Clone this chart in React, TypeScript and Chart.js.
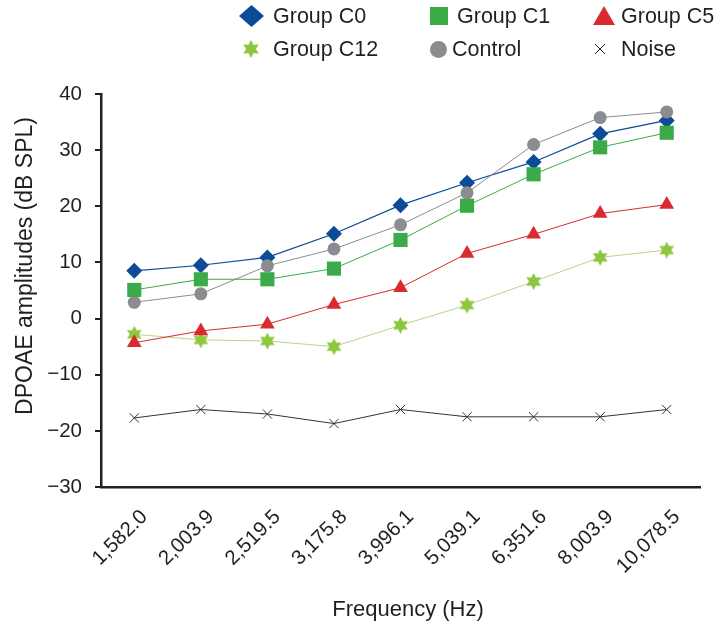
import React, { useEffect, useRef } from "react";
import { Chart, registerables } from "chart.js";

Chart.register(...registerables);

const frequencies = ["1,582.0", "2,003.9", "2,519.5", "3,175.8", "3,996.1", "5,039.1", "6,351.6", "8,003.9", "10,078.5"];
const seriesNames = ["Group C0", "Group C1", "Group C5", "Group C12", "Control", "Noise"];
const groupC0 = [8.5, 9.5, 10.9, 15.1, 20.2, 24.2, 27.9, 32.9, 35.3];
const groupC1 = [5.1, 7.0, 7.0, 8.9, 14.0, 20.1, 25.7, 30.5, 33.1];
const groupC5 = [-4.3, -2.2, -1.0, 2.5, 5.5, 11.6, 15.0, 18.7, 20.3];
const groupC12 = [-2.8, -3.8, -4.0, -5.0, -1.2, 2.4, 6.6, 10.9, 12.2];
const control = [2.9, 4.4, 9.4, 12.4, 16.7, 22.4, 31.0, 35.8, 36.8];
const noise = [-17.7, -16.2, -17.0, -18.7, -16.2, -17.5, -17.5, -17.5, -16.2];
const yTicks = [-30, -20, -10, 0, 10, 20, 30, 40];
const xTitle = "Frequency (Hz)";
const yTitle = "DPOAE amplitudes (dB SPL)";

const NAVY = "#0c4b97";
const GREEN = "#3bab4a";
const RED = "#d92a30";
const LIME = "#8dc63f";
const LIME_LINE = "#b5d78c";
const GRAY = "#8b8c8f";
const DARK = "#231f20";
const FONT = '"Liberation Sans", Arial, sans-serif';

function starPoints(cx: number, cy: number, ro: number, ri: number, n: number) {
  const pts: string[] = [];
  for (let i = 0; i < n * 2; i++) {
    const r = i % 2 === 0 ? ro : ri;
    const a = (Math.PI * i) / n - Math.PI / 2;
    pts.push(`${(cx + r * Math.cos(a)).toFixed(2)},${(cy + r * Math.sin(a)).toFixed(2)}`);
  }
  return pts.join(" ");
}

function makeStarCanvas(size: number, color: string) {
  const c = document.createElement("canvas");
  c.width = size;
  c.height = size;
  const ctx = c.getContext("2d")!;
  const cx = size / 2, cy = size / 2;
  const ro = size / 2, ri = size * 0.27;
  ctx.beginPath();
  for (let i = 0; i < 12; i++) {
    const r = i % 2 === 0 ? ro : ri;
    const a = (Math.PI * i) / 6 - Math.PI / 2;
    const x = cx + r * Math.cos(a), y = cy + r * Math.sin(a);
    if (i === 0) ctx.moveTo(x, y); else ctx.lineTo(x, y);
  }
  ctx.closePath();
  ctx.fillStyle = color;
  ctx.fill();
  return c;
}

const titlesPlugin = {
  id: "axisTitles",
  afterDraw(chart: any) {
    const ctx = chart.ctx;
    ctx.save();
    ctx.fillStyle = DARK;
    ctx.textAlign = "center";
    ctx.textBaseline = "middle";
    ctx.font = `23px ${FONT}`;
    ctx.translate(26, 266);
    ctx.rotate(-Math.PI / 2);
    ctx.fillText(yTitle, 0, 0);
    ctx.restore();
    ctx.save();
    ctx.fillStyle = DARK;
    ctx.textAlign = "center";
    ctx.textBaseline = "middle";
    ctx.font = `22px ${FONT}`;
    ctx.fillText(xTitle, 408, 610);
    ctx.restore();
  },
};

function LegendMarker({ kind }: { kind: string }) {
  if (kind === "diamond")
    return (<svg width={25} height={22}><polygon points="12.5,0 25,11 12.5,22 0,11" fill={NAVY} /></svg>);
  if (kind === "square")
    return (<svg width={18} height={18}><rect x={0} y={0} width={18} height={18} fill={GREEN} /></svg>);
  if (kind === "triangle")
    return (<svg width={22} height={19}><polygon points="11,0 22,19 0,19" fill={RED} /></svg>);
  if (kind === "star")
    return (<svg width={18} height={18}><polygon points={starPoints(9, 9, 9, 4.8, 6)} fill={LIME} /></svg>);
  if (kind === "circle")
    return (<svg width={17} height={17}><circle cx={8.5} cy={8.5} r={8.5} fill={GRAY} /></svg>);
  return (
    <svg width={10} height={10}>
      <line x1={0} y1={0} x2={10} y2={10} stroke={DARK} strokeWidth={1} />
      <line x1={10} y1={0} x2={0} y2={10} stroke={DARK} strokeWidth={1} />
    </svg>
  );
}

const legendLayout = [
  { kind: "diamond", mx: 251, my: 16, w: 25, h: 22, tx: 273, ty: 16 },
  { kind: "square", mx: 439, my: 16, w: 18, h: 18, tx: 457, ty: 16 },
  { kind: "triangle", mx: 604, my: 15, w: 22, h: 19, tx: 621, ty: 16 },
  { kind: "star", mx: 251, my: 49, w: 18, h: 18, tx: 273, ty: 49 },
  { kind: "circle", mx: 438, my: 49, w: 17, h: 17, tx: 452, ty: 49 },
  { kind: "cross", mx: 600, my: 49, w: 10, h: 10, tx: 621, ty: 49 },
];

export default function App() {
  const canvasRef = useRef<HTMLCanvasElement | null>(null);

  useEffect(() => {
    if (!canvasRef.current) return;
    const star = makeStarCanvas(17, LIME);
    const chart = new Chart(canvasRef.current, {
      type: "line",
      data: {
        labels: frequencies,
        datasets: [
          { label: seriesNames[0], data: groupC0, borderColor: NAVY, backgroundColor: NAVY, borderWidth: 1.2, pointStyle: "rectRot", pointRadius: 8, pointBorderWidth: 0, order: 1 },
          { label: seriesNames[1], data: groupC1, borderColor: GREEN, backgroundColor: GREEN, borderWidth: 1, pointStyle: "rect", pointRadius: 10, pointBorderWidth: 0, order: 0 },
          { label: seriesNames[2], data: groupC5, borderColor: RED, backgroundColor: RED, borderWidth: 1, pointStyle: "triangle", pointRadius: 8.5, pointBorderWidth: 0, order: 0 },
          { label: seriesNames[3], data: groupC12, borderColor: LIME_LINE, backgroundColor: LIME, borderWidth: 1, pointStyle: star as any, pointRadius: 8, order: 0 },
          { label: seriesNames[4], data: control, borderColor: GRAY, backgroundColor: GRAY, borderWidth: 1, pointStyle: "circle", pointRadius: 6.5, pointBorderWidth: 0, order: 0 },
          { label: seriesNames[5], data: noise, borderColor: "#333333", backgroundColor: "#333333", borderWidth: 1, pointStyle: "crossRot", pointRadius: 6.5, pointBorderColor: "#333333", pointBorderWidth: 1, order: 0 },
        ],
      },
      options: {
        responsive: false,
        animation: false,
        devicePixelRatio: 1,
        layout: { padding: { top: 94, right: 20, left: 0, bottom: 0 } },
        plugins: { legend: { display: false }, tooltip: { enabled: false } },
        scales: {
          x: {
            type: "category",
            offset: true,
            grid: { display: false },
            border: { display: true, color: DARK, width: 2.5 },
            ticks: {
              color: DARK,
              font: { family: FONT, size: 20.5 },
              minRotation: 45,
              maxRotation: 45,
              labelOffset: 10,
              padding: 10,
              autoSkip: false,
            },
            afterFit: (s: any) => { s.height = 140; },
          },
          y: {
            min: -30,
            max: 40,
            afterBuildTicks: (s: any) => { s.ticks = yTicks.map((v) => ({ value: v })); },
            grid: { display: true, drawOnChartArea: false, drawTicks: true, tickLength: 6, color: DARK, lineWidth: 2 },
            border: { display: true, color: DARK, width: 2.5 },
            ticks: {
              color: DARK,
              font: { family: FONT, size: 20.5 },
              padding: 13,
              callback: (v: any) => (Number(v) < 0 ? "\u2212" + Math.abs(Number(v)) : String(v)),
            },
            afterFit: (s: any) => { s.width = 101; },
          },
        },
      },
      plugins: [titlesPlugin],
    });
    return () => chart.destroy();
  }, []);

  return (
    <div style={{ position: "absolute", left: 0, top: 0, width: 720, height: 627, background: "#fff", overflow: "hidden" }}>
      <canvas ref={canvasRef} width={720} height={627} style={{ position: "absolute", left: 0, top: 0, width: 720, height: 627 }} />
      {legendLayout.map((it, i) => (
        <React.Fragment key={i}>
          <div style={{ position: "absolute", left: it.mx - it.w / 2, top: it.my - it.h / 2, width: it.w, height: it.h, lineHeight: 0 }}>
            <LegendMarker kind={it.kind} />
          </div>
          <div style={{ position: "absolute", left: it.tx, top: it.ty - 12, height: 24, lineHeight: "24px", fontFamily: FONT, fontSize: 21.5, color: DARK, whiteSpace: "nowrap" }}>
            {seriesNames[i]}
          </div>
        </React.Fragment>
      ))}
    </div>
  );
}
